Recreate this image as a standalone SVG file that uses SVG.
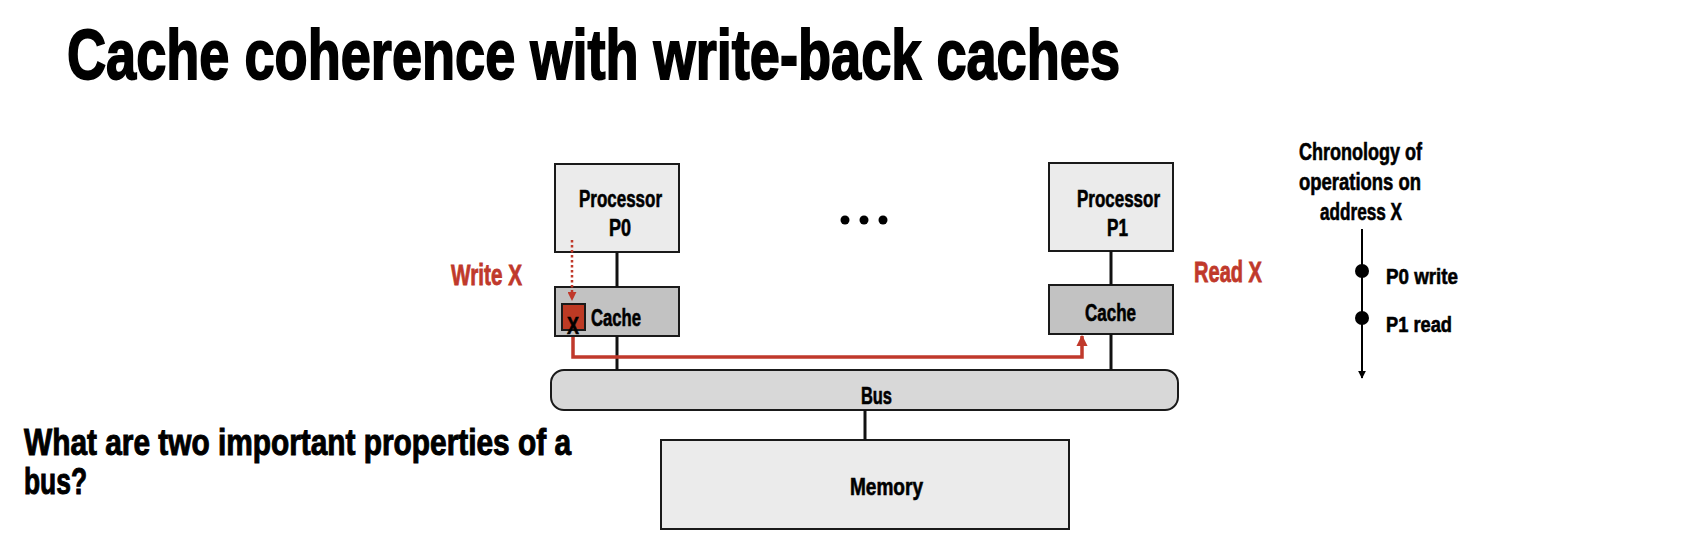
<svg xmlns="http://www.w3.org/2000/svg" width="1700" height="556" viewBox="0 0 1700 556">
<style>
text{font-family:"Liberation Sans",Arial,sans-serif;font-weight:bold;fill:#000;stroke:#000;stroke-width:0.6}
.ttl{stroke-width:1.8}
.q{stroke-width:1}
.rt{fill:#c0392b;stroke:#c0392b;stroke-width:0.8}
.box{stroke:#1a1a1a;stroke-width:2}
.proc{fill:#ebebeb}
.cache{fill:#c2c2c2}
.bus{fill:#d8d8d8}
.red{fill:#bd3a24}
.wire{stroke:#111;stroke-width:3;fill:none}
.rline{stroke:#c0392b;stroke-width:3.5;fill:none}
.lbl{font-size:23px}
</style>
<defs>
<marker id="rarrow" viewBox="0 0 10 10" refX="9" refY="5" markerWidth="3.2" markerHeight="3.4" orient="auto" markerUnits="strokeWidth">
<path d="M0,0 L10,5 L0,10 z" fill="#c0392b"/>
</marker>
<marker id="rarrow2" viewBox="0 0 10 10" refX="9" refY="5" markerWidth="3.6" markerHeight="3.6" orient="auto" markerUnits="strokeWidth">
<path d="M0,0 L10,5 L0,10 z" fill="#c0392b"/>
</marker>
<marker id="karrow" viewBox="0 0 10 10" refX="9" refY="5" markerWidth="4" markerHeight="4" orient="auto" markerUnits="strokeWidth">
<path d="M0,0 L10,5 L0,10 z" fill="#000"/>
</marker>
</defs>

<g id="title">
<text class="ttl" x="67" y="79" font-size="70" textLength="1053" lengthAdjust="spacingAndGlyphs">Cache coherence with write-back caches</text>
</g>

<g id="p0">
<rect class="box proc" x="555" y="164" width="124" height="88"/>
<text class="lbl" x="579" y="207" textLength="83" lengthAdjust="spacingAndGlyphs">Processor</text>
<text class="lbl" x="609" y="236" textLength="22" lengthAdjust="spacingAndGlyphs">P0</text>
</g>

<g id="p0cache">
<rect class="box cache" x="555" y="287" width="124" height="49"/>
<rect class="box red" x="562" y="304" width="23" height="26"/>
<text x="567" y="334" font-size="24" textLength="12" lengthAdjust="spacingAndGlyphs">X</text>
<text class="lbl" x="591" y="326" textLength="50" lengthAdjust="spacingAndGlyphs">Cache</text>
</g>

<g id="p1">
<rect class="box proc" x="1049" y="163" width="124" height="88"/>
<text class="lbl" x="1077" y="207" textLength="83" lengthAdjust="spacingAndGlyphs">Processor</text>
<text class="lbl" x="1107" y="236" textLength="21" lengthAdjust="spacingAndGlyphs">P1</text>
</g>

<g id="p1cache">
<rect class="box cache" x="1049" y="285" width="124" height="49"/>
<text class="lbl" x="1085" y="321" textLength="51" lengthAdjust="spacingAndGlyphs">Cache</text>
</g>

<g id="ellipsis">
<circle cx="845" cy="220" r="4.5"/>
<circle cx="864" cy="220" r="4.5"/>
<circle cx="883" cy="220" r="4.5"/>
</g>

<g id="bus">
<rect class="box bus" x="551" y="370" width="627" height="40" rx="13" ry="13"/>
<text class="lbl" x="861" y="404" textLength="31" lengthAdjust="spacingAndGlyphs">Bus</text>
</g>

<g id="memory">
<rect class="box proc" x="661" y="440" width="408" height="89"/>
<text class="lbl" x="850" y="495" textLength="73" lengthAdjust="spacingAndGlyphs">Memory</text>
</g>

<g id="labels">
<text class="rt" x="451" y="285" font-size="29" textLength="71" lengthAdjust="spacingAndGlyphs">Write X</text>
<text class="rt" x="1194" y="282" font-size="29" textLength="68" lengthAdjust="spacingAndGlyphs">Read X</text>
</g>

<g id="chronology">
<text class="lbl" x="1299" y="160" textLength="123" lengthAdjust="spacingAndGlyphs">Chronology of</text>
<text class="lbl" x="1299" y="190" textLength="122" lengthAdjust="spacingAndGlyphs">operations on</text>
<text class="lbl" x="1320" y="220" textLength="82" lengthAdjust="spacingAndGlyphs">address X</text>
<line x1="1362" y1="229" x2="1362" y2="378" stroke="#000" stroke-width="2" marker-end="url(#karrow)"/>
<circle cx="1362" cy="271" r="7"/>
<circle cx="1362" cy="318" r="7"/>
<text x="1386" y="284" font-size="22" textLength="72" lengthAdjust="spacingAndGlyphs">P0 write</text>
<text x="1386" y="332" font-size="22" textLength="66" lengthAdjust="spacingAndGlyphs">P1 read</text>
</g>

<g id="question">
<text class="q" x="24" y="455" font-size="36" textLength="547" lengthAdjust="spacingAndGlyphs">What are two important properties of a</text>
<text class="q" x="24" y="494" font-size="36" textLength="63" lengthAdjust="spacingAndGlyphs">bus?</text>
</g>

<g id="connectors">
<line class="wire" x1="617" y1="252" x2="617" y2="287"/>
<line class="wire" x1="617" y1="336" x2="617" y2="370"/>
<line class="wire" x1="1111" y1="251" x2="1111" y2="285"/>
<line class="wire" x1="1111" y1="334" x2="1111" y2="370"/>
<line class="wire" x1="865" y1="410" x2="865" y2="440"/>
<line x1="572" y1="240" x2="572" y2="300" stroke="#c0392b" stroke-width="2.5" stroke-dasharray="2.5 2.5" marker-end="url(#rarrow2)"/>
<polyline class="rline" points="573,337 573,357 1082,357 1082,336" marker-end="url(#rarrow)"/>
</g>
</svg>
